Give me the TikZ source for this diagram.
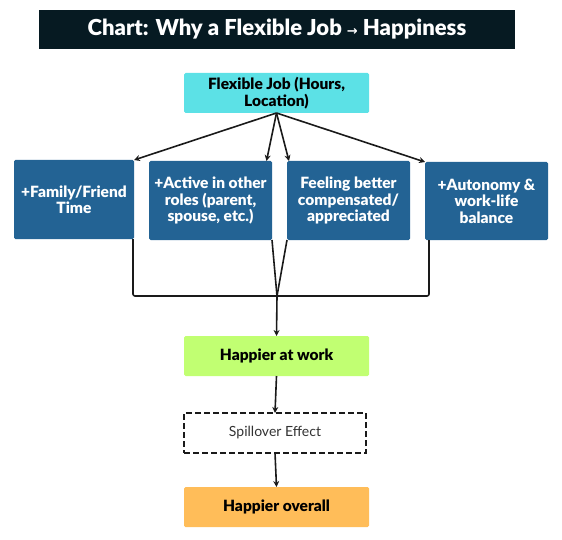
\documentclass[tikz,border=0pt]{standalone}
\usepackage{fontspec}
\setmainfont{Lato}[BoldFont={Lato Black}]
\newfontfamily\arrowfont{DejaVu Sans}
\usetikzlibrary{arrows.meta}
\definecolor{titlebg}{RGB}{6,26,34}
\definecolor{jobcyan}{RGB}{92,225,230}
\definecolor{effblue}{RGB}{35,99,148}
\definecolor{workgreen}{RGB}{193,255,114}
\definecolor{allorange}{RGB}{255,189,89}
\definecolor{linegray}{RGB}{26,26,26}
\begin{document}
\begin{tikzpicture}[x=1pt, y=-1pt,
  box/.style={shape=rectangle, rounded corners=1.5pt, outer sep=0pt, inner sep=2pt, align=center, font=\bfseries\fontsize{15.5}{16.5}\selectfont},
  effect/.style={box, fill=effblue, text=white, minimum width=123pt, minimum height=79pt},
  result/.style={box, minimum width=185pt, minimum height=40pt},
  flow/.style={-{Stealth[length=6pt,width=6pt]}, line width=1.6pt, draw=linegray},
  link/.style={-, line width=1.6pt, draw=linegray, rounded corners=2pt}]
\useasboundingbox (0,0) rectangle (562,540);
\node[shape=rectangle, fill=titlebg, text=white, minimum width=476pt, minimum height=39pt, font=\bfseries\fontsize{22}{26}\selectfont] (title) at (277,29.5) {Chart: Why a Flexible Job {\arrowfont\fontsize{13}{16}\selectfont →} Happiness};
\node[result, fill=jobcyan] (job) at (276.5,93) {Flexible Job (Hours,\\Location)};
\node[effect, minimum width=120pt] (family) at (74,199.5) {+Family/Friend\\Time};
\node[effect] (roles) at (210.5,200.5) {+Active in other\\roles (parent,\\spouse, etc.)};
\node[effect] (paid) at (348.5,200.5) {Feeling better\\compensated/\\appreciated};
\node[effect, minimum height=78pt] (balance) at (486.5,201) {+Autonomy \&\\work-life\\balance};
\node[result, fill=workgreen] (work) at (276.5,356) {Happier at work};
\node[result, draw=linegray, line width=1.4pt, dashed, dash pattern=on 6pt off 3pt, rounded corners=0pt, fill=white, text=black!80, minimum width=182pt, font=\fontsize{14}{16}\selectfont] (spill) at (275,433) {Spillover Effect};
\node[result, fill=allorange] (overall) at (276.5,507) {Happier overall};
\coordinate (join) at (277,296);
\draw [flow] (job.south) -- (family.north east);
\draw [flow] (job.south) -- ([xshift=-5.5pt]roles.north east);
\draw [flow] (job.south) -- ([xshift=2pt]paid.north west);
\draw [flow] (job.south) -- (balance.north west);
\draw [link] ([xshift=-1pt]family.south east) |- (join) -| ([xshift=4pt]balance.south west);
\draw [link] (roles.south east) -- (join);
\draw [link] (paid.south west) -- (join);
\draw [flow] (join) -- (work.north);
\draw [flow] (work.south) -- (spill.north);
\draw [flow] (spill.south) -- (overall.north);
\end{tikzpicture}
\end{document}
